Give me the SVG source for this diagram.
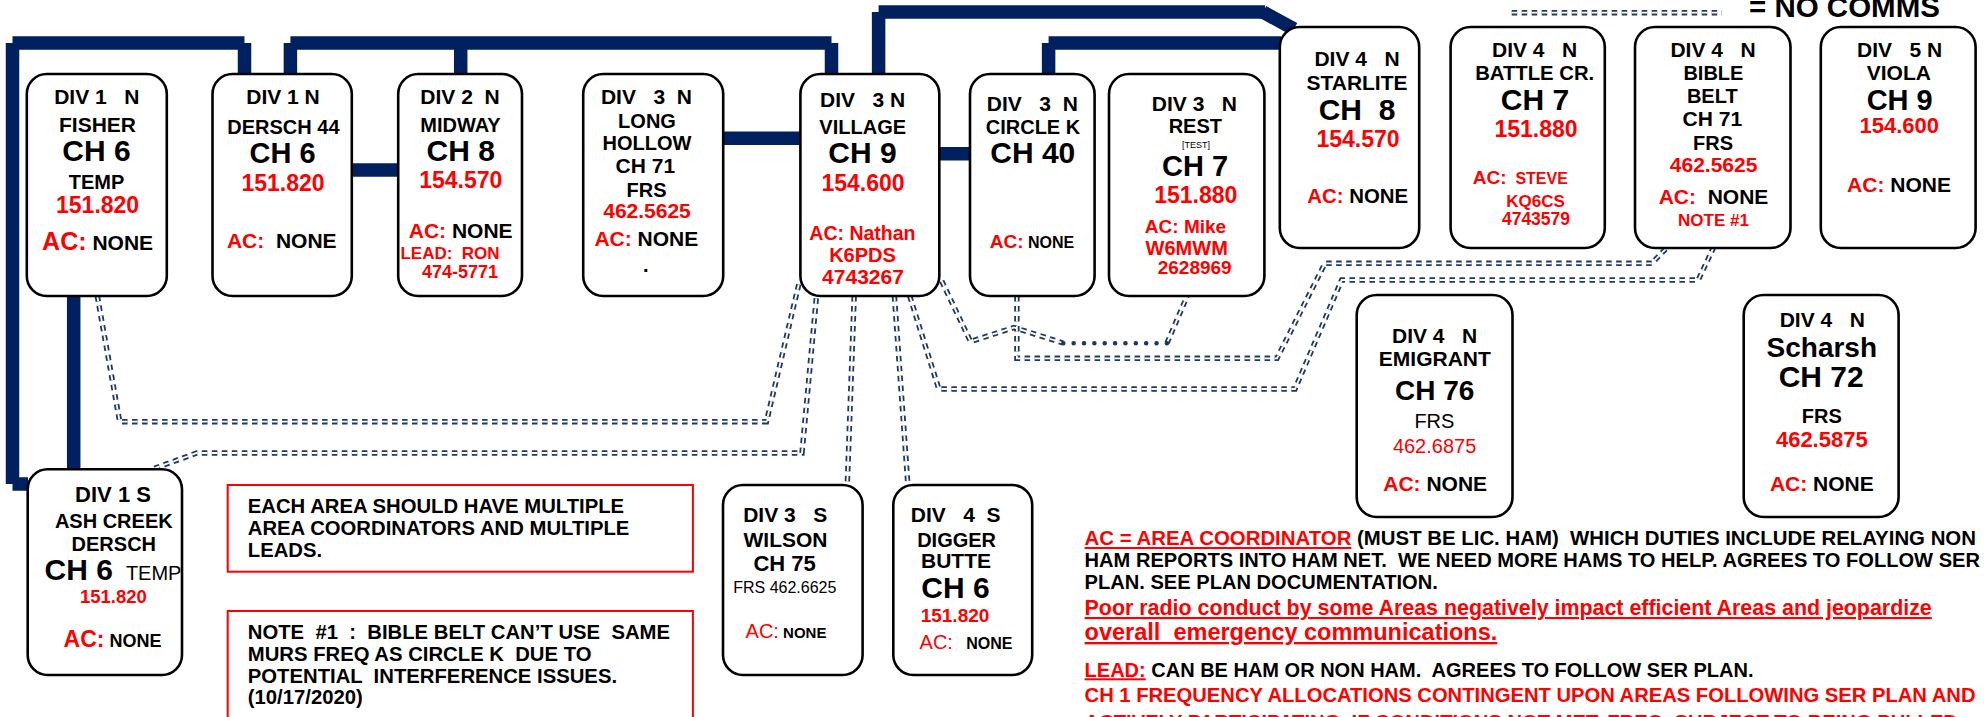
<svg xmlns="http://www.w3.org/2000/svg" xmlns:xlink="http://www.w3.org/1999/xlink" width="1984" height="717" viewBox="0 0 1984 717" xml:space="preserve">
<style>
text{font-family:"Liberation Sans",Arial,Helvetica,sans-serif;font-weight:bold;fill:#000;white-space:pre}
.c{text-anchor:middle}
.r{fill:#f00}
.n{font-weight:normal}
.u{text-decoration:underline}
.nd rect{fill:#fff;stroke:#000;stroke-width:2.6}
.th{stroke:#002060;stroke-width:13.5;fill:none;stroke-linecap:butt}
.nc{stroke:#1f3864;stroke-width:5.4;fill:none;stroke-dasharray:5.5 4.5}
.nci{stroke:#fff;stroke-width:1.8;fill:none;stroke-dasharray:5.5 4.5}
.dot{stroke:#1f3864;stroke-width:4.6;stroke-linecap:round;stroke-dasharray:0 10.36;fill:none}
.rb{fill:none;stroke:#f00;stroke-width:2}
</style>
<defs>
<path id="pA" d="M97.3,296 L119.7,421.7 L766.5,421.7 L799.8,280"/>
<path id="pB" d="M154.5,468.3 L196.8,453 L802,453 L816.5,296"/>
<path id="pW" d="M854.2,296 L847.3,484"/>
<path id="pG" d="M894.4,296 L907.8,484"/>
<path id="pE" d="M909.7,296 L938.8,389 L1295,389 L1341.7,280 L1698.3,280 L1713.3,248"/>
<path id="pC" d="M1016.9,296 L1016.9,358.3 L1277,358.3 L1325,263.3 L1651.7,263.3 L1666.7,248"/>
<path id="pD" d="M941.7,281 L970.5,341.5 L1014,327.5 L1063,343"/>
<path id="pR" d="M1167,343 L1187,296.5"/>
<path id="pL" d="M1511.7,12.7 L1722,12.7"/>
</defs>
<g id="connectors">
<g class="th">
<line x1="12.5" y1="43" x2="244.5" y2="43"/>
<line x1="12.5" y1="43" x2="12.5" y2="484"/>
<line x1="12.5" y1="484" x2="28" y2="484"/>
<line x1="244.5" y1="43" x2="244.5" y2="75"/>
<line x1="290.4" y1="43" x2="831.5" y2="43"/>
<line x1="290.4" y1="43" x2="290.4" y2="75"/>
<line x1="460.7" y1="43" x2="460.7" y2="75"/>
<line x1="831.5" y1="43" x2="831.5" y2="75"/>
<line x1="878.6" y1="12" x2="878.6" y2="75"/>
<line x1="878.6" y1="12" x2="1265" y2="12"/>
<line x1="1263" y1="12" x2="1294" y2="29"/>
<line x1="1048.6" y1="43" x2="1048.6" y2="75"/>
<line x1="1048.6" y1="43" x2="1281" y2="43"/>
<line x1="351" y1="170" x2="399" y2="170"/>
<line x1="722" y1="138.3" x2="801" y2="138.3"/>
<line x1="938" y1="153.7" x2="971" y2="153.7"/>
<line x1="73.7" y1="295" x2="73.7" y2="470"/>
</g>
<g class="nc">
<use xlink:href="#pA"/><use xlink:href="#pB"/><use xlink:href="#pW"/><use xlink:href="#pG"/><use xlink:href="#pE"/><use xlink:href="#pC"/><use xlink:href="#pD"/><use xlink:href="#pR"/><use xlink:href="#pL"/>
</g>
<g class="nci">
<use xlink:href="#pA"/><use xlink:href="#pB"/><use xlink:href="#pW"/><use xlink:href="#pG"/><use xlink:href="#pE"/><use xlink:href="#pC"/><use xlink:href="#pD"/><use xlink:href="#pR"/><use xlink:href="#pL"/>
</g>
<path class="dot" d="M1063.3,343.3 L1167,343.3"/>
</g>
<g id="legend">
<text x="1749" y="17" font-size="29.5">= NO COMMS</text>
</g>
<g id="fisher" class="nd">
<rect x="26.8" y="74" width="140" height="222" rx="20"/>
<text class="c" x="96.8" y="104" font-size="21">DIV 1   N</text>
<text class="c" x="97.5" y="131.7" font-size="21">FISHER</text>
<text class="c" x="96.5" y="161" font-size="30">CH 6</text>
<text class="c" x="96.5" y="189" font-size="20">TEMP</text>
<text class="c r" x="97.6" y="212.7" font-size="23">151.820</text>
<text class="c" x="97.6" y="250"><tspan class="r" font-size="25">AC:</tspan><tspan font-size="21"> NONE</tspan></text>
</g>
<g id="dersch44" class="nd">
<rect x="212.5" y="74" width="139.3" height="222" rx="20"/>
<text class="c" x="283" y="104" font-size="21">DIV 1 N</text>
<text class="c" x="283.4" y="134.3" font-size="20">DERSCH 44</text>
<text class="c" x="282.6" y="163.3" font-size="29">CH 6</text>
<text class="c r" x="283" y="191" font-size="23">151.820</text>
<text class="c" x="281.8" y="248.3" font-size="21"><tspan class="r">AC:</tspan>  NONE</text>
</g>
<g id="midway" class="nd">
<rect x="398.2" y="74" width="123.8" height="222" rx="20"/>
<text class="c" x="460" y="104" font-size="21">DIV 2  N</text>
<text class="c" x="460.5" y="131.7" font-size="20">MIDWAY</text>
<text class="c" x="460.7" y="161" font-size="30">CH 8</text>
<text class="c r" x="460.8" y="188.3" font-size="23">154.570</text>
<text class="c" x="460.7" y="238.3" font-size="21"><tspan class="r">AC:</tspan> NONE</text>
<text class="c r" x="450" y="259.3" font-size="17">LEAD:  RON</text>
<text class="c r" x="460" y="278.3" font-size="18">474-5771</text>
</g>
<g id="longhollow" class="nd">
<rect x="583.2" y="74" width="140" height="222" rx="20"/>
<text class="c" x="646.4" y="104" font-size="21">DIV   3  N</text>
<text class="c" x="647" y="127.7" font-size="20">LONG</text>
<text class="c" x="647" y="150" font-size="20">HOLLOW</text>
<text class="c" x="645.3" y="173.3" font-size="21">CH 71</text>
<text class="c" x="646.6" y="196.7" font-size="20">FRS</text>
<text class="c r" x="647" y="218.3" font-size="21">462.5625</text>
<text class="c" x="646.3" y="245.7" font-size="21"><tspan class="r">AC:</tspan> NONE</text>
<text class="c" x="645.7" y="271.7" font-size="20">.</text>
</g>
<g id="village" class="nd">
<rect x="800.4" y="74" width="138.9" height="222" rx="20"/>
<text class="c" x="862.7" y="106.7" font-size="21">DIV   3 N</text>
<text class="c" x="862.7" y="134" font-size="20">VILLAGE</text>
<text class="c" x="862.5" y="163.3" font-size="30">CH 9</text>
<text class="c r" x="863" y="190.7" font-size="23">154.600</text>
<text class="c r" x="862.4" y="240" font-size="19.5">AC: Nathan</text>
<text class="c r" x="862.5" y="262.3" font-size="20">K6PDS</text>
<text class="c r" x="863" y="284" font-size="21">4743267</text>
</g>
<g id="circlek" class="nd">
<rect x="970" y="74" width="124.6" height="222" rx="20"/>
<text class="c" x="1032.3" y="111" font-size="21">DIV   3  N</text>
<text class="c" x="1033" y="134" font-size="20">CIRCLE K</text>
<text class="c" x="1032.8" y="163.3" font-size="30">CH 40</text>
<text class="c" x="1032" y="248.3"><tspan class="r" font-size="19">AC:</tspan><tspan font-size="16"> NONE</tspan></text>
</g>
<g id="rest" class="nd">
<rect x="1109" y="74" width="155.4" height="222" rx="20"/>
<text class="c" x="1194.4" y="111" font-size="21">DIV 3   N</text>
<text class="c" x="1195.3" y="133.3" font-size="20">REST</text>
<text class="c n" x="1196" y="147.7" font-size="9">[TEST]</text>
<text class="c" x="1195" y="176" font-size="29">CH 7</text>
<text class="c r" x="1195.8" y="203.3" font-size="23">151.880</text>
<text class="c r" x="1185.5" y="233.3" font-size="19">AC: Mike</text>
<text class="c r" x="1186.7" y="255" font-size="20">W6MWM</text>
<text class="c r" x="1194.7" y="274" font-size="19">2628969</text>
</g>
<g id="starlite" class="nd">
<rect x="1279.8" y="27" width="139.4" height="221" rx="20"/>
<text class="c" x="1357" y="66" font-size="21">DIV 4   N</text>
<text class="c" x="1357" y="90" font-size="21">STARLITE</text>
<text class="c" x="1357" y="120" font-size="30">CH  8</text>
<text class="c r" x="1358" y="146.7" font-size="23">154.570</text>
<text class="c" x="1357.7" y="203.3" font-size="20.4"><tspan class="r">AC:</tspan> NONE</text>
</g>
<g id="battlecr" class="nd">
<rect x="1450.6" y="27" width="154.2" height="221" rx="20"/>
<text class="c" x="1534.6" y="56.7" font-size="21">DIV 4   N</text>
<text class="c" x="1534.7" y="80" font-size="20.3">BATTLE CR.</text>
<text class="c" x="1535" y="110" font-size="30">CH 7</text>
<text class="c r" x="1536" y="136.7" font-size="23">151.880</text>
<text class="c r" x="1520.3" y="184.3"><tspan font-size="19">AC:</tspan><tspan font-size="16">  STEVE</tspan></text>
<text class="c r" x="1535.5" y="207.3" font-size="17">KQ6CS</text>
<text class="c r" x="1536" y="225" font-size="17.5">4743579</text>
</g>
<g id="biblebelt" class="nd">
<rect x="1635" y="27" width="155.5" height="221" rx="20"/>
<text class="c" x="1713" y="56.7" font-size="21">DIV 4   N</text>
<text class="c" x="1713.4" y="80" font-size="20">BIBLE</text>
<text class="c" x="1712.3" y="102.7" font-size="20">BELT</text>
<text class="c" x="1712.3" y="126" font-size="21">CH 71</text>
<text class="c" x="1713" y="150" font-size="20">FRS</text>
<text class="c r" x="1713.6" y="171.7" font-size="21">462.5625</text>
<text class="c" x="1713.5" y="204.3" font-size="21"><tspan class="r">AC:</tspan>  NONE</text>
<text class="c r" x="1713.5" y="226" font-size="17">NOTE #1</text>
</g>
<g id="viola" class="nd">
<rect x="1820.8" y="27" width="154.8" height="221" rx="20"/>
<text class="c" x="1899.6" y="56.7" font-size="21">DIV   5 N</text>
<text class="c" x="1898.8" y="80" font-size="21">VIOLA</text>
<text class="c" x="1899.7" y="110" font-size="29">CH 9</text>
<text class="c r" x="1899.3" y="133.3" font-size="22">154.600</text>
<text class="c" x="1899" y="191.7" font-size="21"><tspan class="r">AC:</tspan> NONE</text>
</g>
<g id="emigrant" class="nd">
<rect x="1356.7" y="295" width="155.8" height="222" rx="20"/>
<text class="c" x="1434.6" y="342.7" font-size="21">DIV 4   N</text>
<text class="c" x="1434.8" y="366" font-size="21">EMIGRANT</text>
<text class="c" x="1434.6" y="400" font-size="28">CH 76</text>
<text class="c n" x="1434.4" y="427.7" font-size="20">FRS</text>
<text class="c n r" x="1434.6" y="452.7" font-size="20">462.6875</text>
<text class="c" x="1435.2" y="490.7" font-size="21"><tspan class="r">AC:</tspan> NONE</text>
</g>
<g id="scharsh" class="nd">
<rect x="1743.7" y="295" width="154.9" height="222" rx="20"/>
<text class="c" x="1822.3" y="326.7" font-size="21">DIV 4   N</text>
<text class="c" x="1821.8" y="356.7" font-size="28">Scharsh</text>
<text class="c" x="1821.2" y="387.3" font-size="30">CH 72</text>
<text class="c" x="1821.8" y="422.7" font-size="20">FRS</text>
<text class="c r" x="1821.8" y="446.7" font-size="22">462.5875</text>
<text class="c" x="1821.8" y="490.7" font-size="21"><tspan class="r">AC:</tspan> NONE</text>
</g>
<g id="ashcreek" class="nd">
<rect x="27.7" y="469.3" width="154.3" height="205.7" rx="20"/>
<text class="c" x="113" y="501.7" font-size="22">DIV 1 S</text>
<text class="c" x="113.8" y="528.3" font-size="20">ASH CREEK</text>
<text class="c" x="113.8" y="550.7" font-size="20">DERSCH</text>
<text x="44.6" y="580" font-size="30">CH 6</text>
<text class="n" x="125.9" y="580" font-size="20">TEMP</text>
<text class="c r" x="113.4" y="603.3" font-size="18.5">151.820</text>
<text class="c" x="112.5" y="646.7"><tspan class="r" font-size="23">AC:</tspan><tspan font-size="18"> NONE</tspan></text>
</g>
<g id="wilson" class="nd">
<rect x="723" y="485" width="139.6" height="190" rx="20"/>
<text class="c" x="785.2" y="521.7" font-size="21">DIV 3   S</text>
<text class="c" x="785.5" y="546.7" font-size="21">WILSON</text>
<text class="c" x="784.6" y="570.7" font-size="22">CH 75</text>
<text class="c n" x="784.8" y="593.3" font-size="16">FRS 462.6625</text>
<text class="c" x="786" y="638.3"><tspan class="r n" font-size="20">AC:</tspan><tspan font-size="15"> NONE</tspan></text>
</g>
<g id="diggerbutte" class="nd">
<rect x="893.3" y="485" width="138.9" height="190" rx="20"/>
<text class="c" x="955.7" y="521.7" font-size="21">DIV   4  S</text>
<text class="c" x="956.6" y="546.7" font-size="20">DIGGER</text>
<text class="c" x="956" y="568.3" font-size="21">BUTTE</text>
<text class="c" x="955.5" y="598.3" font-size="30">CH 6</text>
<text class="c r" x="955" y="621.7" font-size="19">151.820</text>
<text class="c" x="966" y="649.3"><tspan class="r n" font-size="20">AC:</tspan><tspan font-size="16">   NONE</tspan></text>
</g>
<g id="note-multiple">
<rect class="rb" x="227.7" y="485" width="465.2" height="86.7"/>
<text x="247.8" y="513.3" font-size="20.3">EACH AREA SHOULD HAVE MULTIPLE</text>
<text x="247.8" y="535" font-size="20.3">AREA COORDINATORS AND MULTIPLE</text>
<text x="247.8" y="556.7" font-size="20.3">LEADS.</text>
</g>
<g id="note-1">
<rect class="rb" x="227.7" y="611" width="465.2" height="130"/>
<text x="247.8" y="639.3" font-size="20.3">NOTE  #1  :  BIBLE BELT CAN’T USE  SAME</text>
<text x="247.8" y="661" font-size="20.3">MURS FREQ AS CIRCLE K  DUE TO</text>
<text x="247.8" y="682.7" font-size="20.3">POTENTIAL  INTERFERENCE ISSUES.</text>
<text x="247.8" y="704" font-size="20.3">(10/17/2020)</text>
</g>
<g id="legend-text">
<text x="1084.6" y="545" font-size="20.4"><tspan class="r u">AC = AREA COORDINATOR</tspan> (MUST BE LIC. HAM)  WHICH DUTIES INCLUDE RELAYING NON</text>
<text x="1084.6" y="567.3" font-size="20.1">HAM REPORTS INTO HAM NET.  WE NEED MORE HAMS TO HELP. AGREES TO FOLLOW SER</text>
<text x="1084.6" y="589.3" font-size="20.1">PLAN. SEE PLAN DOCUMENTATION.</text>
<text class="r u" x="1084.6" y="615" font-size="21.4">Poor radio conduct by some Areas negatively impact efficient Areas and jeopardize</text>
<text class="r u" x="1084.6" y="640" font-size="23.5">overall  emergency communications.</text>
<text x="1084.6" y="677.3" font-size="20"><tspan class="r u">LEAD:</tspan> CAN BE HAM OR NON HAM.  AGREES TO FOLLOW SER PLAN.</text>
<text class="r" x="1084.6" y="701.7" font-size="20.2">CH 1 FREQUENCY ALLOCATIONS CONTINGENT UPON AREAS FOLLOWING SER PLAN AND</text>
<text class="r" x="1084.6" y="729" font-size="20.2">ACTIVELY PARTICIPATING. IF CONDITIONS NOT MET. FREQ. SUBJECT TO BEING PULLED</text>
</g>
</svg>
